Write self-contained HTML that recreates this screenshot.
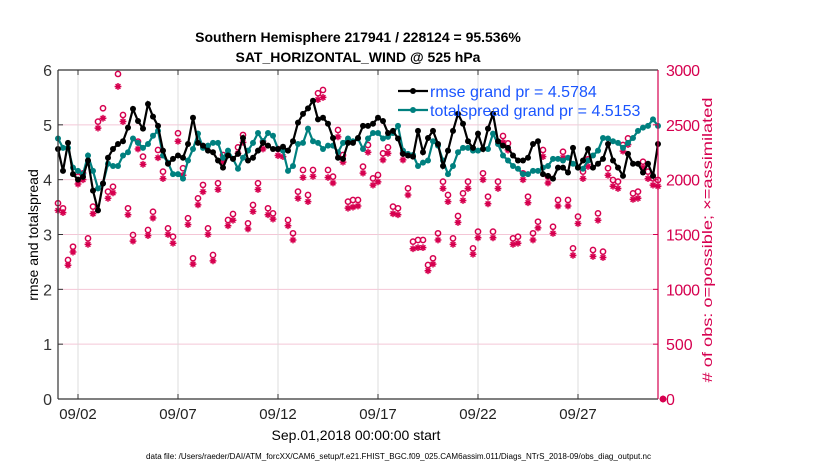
<!DOCTYPE html>
<html><head><meta charset="utf-8"><style>
body{margin:0;background:#fff;}
svg{display:block;font-family:"Liberation Sans",sans-serif;}
</style></head><body>
<svg id="chart" width="830" height="470" viewBox="0 0 830 470">
<text x="358" y="42" text-anchor="middle" font-size="14" font-weight="bold">Southern Hemisphere 217941 / 228124 = 95.536%</text>
<text x="358" y="62" text-anchor="middle" font-size="14" font-weight="bold">SAT_HORIZONTAL_WIND @ 525 hPa</text>
<g id="grid"></g>
<g id="obs"></g>
<g id="lines"></g>
<g id="axes"></g>
<text transform="translate(38,235) rotate(-90)" text-anchor="middle" font-size="14">rmse and totalspread</text>
<text transform="translate(712,240) rotate(-90)" text-anchor="middle" font-size="14" textLength="285" lengthAdjust="spacingAndGlyphs" fill="#d6004f"># of obs: o=possible; ×=assimilated</text>
<text x="356" y="440" text-anchor="middle" font-size="14">Sep.01,2018 00:00:00 start</text>
<text x="146" y="459" font-size="8" textLength="505" lengthAdjust="spacingAndGlyphs">data file: /Users/raeder/DAI/ATM_forcXX/CAM6_setup/f.e21.FHIST_BGC.f09_025.CAM6assim.011/Diags_NTrS_2018-09/obs_diag_output.nc</text>
<g id="legend"></g>
</svg>
<script>
const xTickLabels=["09/02","09/07","09/12","09/17","09/22","09/27"];
const xTickDays=[1,6,11,16,21,26];
const yLeftTicks=[0,1,2,3,4,5,6];
const yRightTicks=[0,500,1000,1500,2000,2500,3000];
const rmse=[4.56,4.16,4.67,4.1,4.0,4.05,4.35,3.8,3.44,3.93,4.4,4.56,4.65,4.7,4.95,5.29,5.07,4.93,5.38,5.15,4.98,4.53,4.29,4.38,4.44,4.4,4.65,5.13,4.67,4.62,4.53,4.5,4.35,4.22,4.44,4.38,4.47,4.76,4.35,4.4,4.53,4.67,4.62,4.56,4.56,4.6,4.53,4.7,5.04,5.2,5.3,5.44,5.1,5.13,5.02,4.76,4.4,4.38,4.67,4.67,
4.76,4.98,4.98,5.02,5.13,5.07,4.85,4.89,4.75,4.47,4.44,4.42,4.89,4.5,4.76,4.89,4.65,4.25,4.53,4.89,5.2,5.02,4.7,4.58,4.84,4.56,4.93,5.2,4.7,4.62,4.58,4.44,4.35,4.35,4.4,4.65,4.7,4.1,4.07,4.02,4.22,4.22,4.13,4.58,4.22,4.35,4.56,4.22,4.29,4.38,4.65,4.35,4.22,4.07,4.47,4.29,4.29,4.13,4.29,4.07,4.65];
const totalspread=[4.75,4.58,4.58,4.22,4.16,4.1,4.44,4.16,3.84,3.93,4.29,4.25,4.25,4.44,4.5,4.75,4.67,4.58,4.65,4.8,4.89,4.44,4.31,4.1,4.1,4.02,4.35,4.56,4.84,4.58,4.62,4.67,4.67,4.4,4.53,4.38,4.2,4.4,4.53,4.67,4.85,4.7,4.85,4.8,4.56,4.53,4.16,4.25,4.65,4.67,4.93,4.7,4.67,4.56,4.62,4.62,4.5,4.67,4.75,4.7,
4.75,4.56,4.75,4.85,4.85,4.75,4.78,4.85,4.98,4.53,4.47,4.45,4.25,4.31,4.35,4.7,4.62,4.35,4.1,4.25,4.5,4.58,4.58,4.53,4.53,4.56,4.56,4.84,4.65,4.44,4.35,4.25,4.2,4.1,4.1,4.16,4.16,4.22,4.25,4.38,4.38,4.35,4.4,4.29,4.22,4.2,4.35,4.44,4.53,4.76,4.75,4.7,4.67,4.58,4.67,4.76,4.89,4.95,4.98,5.1,4.98];
const possible=[1785,1739,1268,1389,2028,2058,1465,1754,2529,2651,1891,1936,2964,2590,1739,1496,2347,2210,1541,1708,2271,2073,1556,1480,2423,2104,1648,1283,1830,1952,1556,1313,1967,2225,1632,1687,2295,2408,1602,1769,1967,2347,1739,1693,2280,2280,1632,1511,1891,2088,1860,2088,2788,2818,2088,2028,2453,2225,1800,1815,
1815,2119,2316,2012,2043,2240,2295,1754,1739,2240,1921,1435,1450,1450,1222,1283,1511,1982,1860,1465,1669,1875,1982,1374,1526,2058,1845,1526,1982,2398,2331,1465,1480,2058,1845,1511,1617,2271,2028,1571,1815,2255,1815,1374,1663,2073,2186,1359,1693,1344,2104,1997,1982,2316,2377,1875,1891,2164,2073,2012,1997,0];
const assimilated=[1720,1700,1220,1340,1960,2000,1410,1690,2470,2560,1830,1880,2850,2530,1680,1440,2280,2140,1490,1650,2200,2010,1500,1420,2350,2040,1590,1230,1770,1890,1500,1260,1910,2160,1580,1630,2240,2340,1550,1710,1910,2280,1680,1640,2220,2210,1580,1450,1830,2020,1800,2030,2730,2750,2020,1970,2390,2160,1740,1750,
1760,2060,2250,1950,1980,2180,2240,1690,1680,2180,1860,1370,1380,1380,1170,1230,1450,1920,1800,1410,1610,1810,1920,1320,1470,2000,1780,1470,1920,2340,2270,1410,1420,2000,1790,1450,1560,2210,1970,1510,1760,2200,1760,1310,1600,2010,2120,1300,1630,1290,2040,1940,1920,2260,2320,1820,1830,2110,2010,1950,1940,0];

const NS="http://www.w3.org/2000/svg";
const X0=58,X1=658,Y0=399,Y1=70;
const xScale=i=>X0+i*(X1-X0)/120;
const xDay=d=>X0+d*(X1-X0)/30;
const yL=v=>Y0-v*(Y0-Y1)/6;
const yR=v=>Y0-v*(Y0-Y1)/3000;
const MAG="#d6004f",TEAL="#00807f";
function mk(tag,attrs,parent){const e=document.createElementNS(NS,tag);for(const k in attrs)e.setAttribute(k,attrs[k]);parent.appendChild(e);return e;}
const grid=document.getElementById('grid'),axes=document.getElementById('axes'),obs=document.getElementById('obs'),lines=document.getElementById('lines'),legend=document.getElementById('legend');

yLeftTicks.forEach((t,k)=>{
  if(t>0&&t<6){const g=mk('line',{x1:X0,x2:X1,y1:yL(t),y2:yL(t),stroke:"#f4c6d6","stroke-width":1},grid);
  
  }
  const tl=mk('text',{x:X0-6,y:yL(t)+6,"text-anchor":"end","font-size":16,fill:"#333"},axes);tl.textContent=t;
  
  
  mk('line',{x1:X0,x2:X0+5,y1:yL(t),y2:yL(t),stroke:"#333"},axes);
});
yRightTicks.forEach(t=>{
  const tl=mk('text',{x:X1+8,y:yR(t)+6,"font-size":16,fill:MAG},axes);tl.textContent=t;
  if(t>=1000) tl.setAttribute('textLength','34');
  
  
  mk('line',{x1:X1-5,x2:X1,y1:yR(t),y2:yR(t),stroke:MAG},axes);
});
xTickDays.forEach((d,k)=>{
  const g=mk('line',{x1:xDay(d),x2:xDay(d),y1:Y1,y2:Y0,stroke:"#dcdcdc","stroke-width":1},grid);
  
  
  mk('line',{x1:xDay(d),x2:xDay(d),y1:Y0,y2:Y0-5,stroke:"#333"},axes);
  mk('line',{x1:xDay(d),x2:xDay(d),y1:Y1,y2:Y1+5,stroke:"#333"},axes);
  const tl=mk('text',{x:xDay(d),y:Y0+20,"text-anchor":"middle","font-size":15,fill:"#222"},axes);tl.textContent=xTickLabels[k];
  
  
});
mk('line',{x1:X0,x2:X1,y1:Y0,y2:Y0,stroke:"#333","stroke-width":1.2},axes);
mk('line',{x1:X0,x2:X1,y1:Y1,y2:Y1,stroke:"#333","stroke-width":1.2},axes);
mk('line',{x1:X0,x2:X0,y1:Y1,y2:Y0,stroke:"#333","stroke-width":1.2},axes);
mk('line',{x1:X1,x2:X1,y1:Y1,y2:Y0,stroke:MAG,"stroke-width":1.2},axes);

function star(cx,cy,parent){
  const s=3.4,d=s*0.7;
  const p=mk('path',{d:`M${cx-s},${cy}H${cx+s}M${cx},${cy-s}V${cy+s}M${cx-d},${cy-d}L${cx+d},${cy+d}M${cx-d},${cy+d}L${cx+d},${cy-d}`,stroke:MAG,"stroke-width":1.5,fill:"none"},parent);
  return p;
}
assimilated.forEach((v,i)=>{
  const p=star(xScale(i),yR(v),obs);
  
  
});
possible.forEach((v,i)=>{
  const c=mk('circle',{cx:xScale(i),cy:yR(v),r:2.6,fill:"none",stroke:MAG,"stroke-width":1.5},obs);
  
  
});

function series(arr,color,name){
  const pts=arr.map((v,i)=>xScale(i)+","+yL(v)).join(" ");
  const pl=mk('polyline',{points:pts,fill:"none",stroke:color,"stroke-width":2.2},lines);
  
  
  arr.forEach((v,i)=>{
    const c=mk('circle',{cx:xScale(i),cy:yL(v),r:3,fill:color},lines);
    
    
  });
}
series(totalspread,TEAL,'totalspread');
series(rmse,"#000",'rmse');

[["#000","rmse grand pr = 4.5784",91],[TEAL,"totalspread grand pr = 4.5153",110]].forEach((r,k)=>{
  const l=mk('line',{x1:398,x2:428,y1:r[2],y2:r[2],stroke:r[0],"stroke-width":2.2},legend);
  
  
  mk('circle',{cx:413,cy:r[2],r:3,fill:r[0]},legend);
  const t=mk('text',{x:430,y:r[2]+6,"font-size":16,fill:"#1a55ff"},legend);t.textContent=r[1];
  
  
});
</script>
</body></html>
